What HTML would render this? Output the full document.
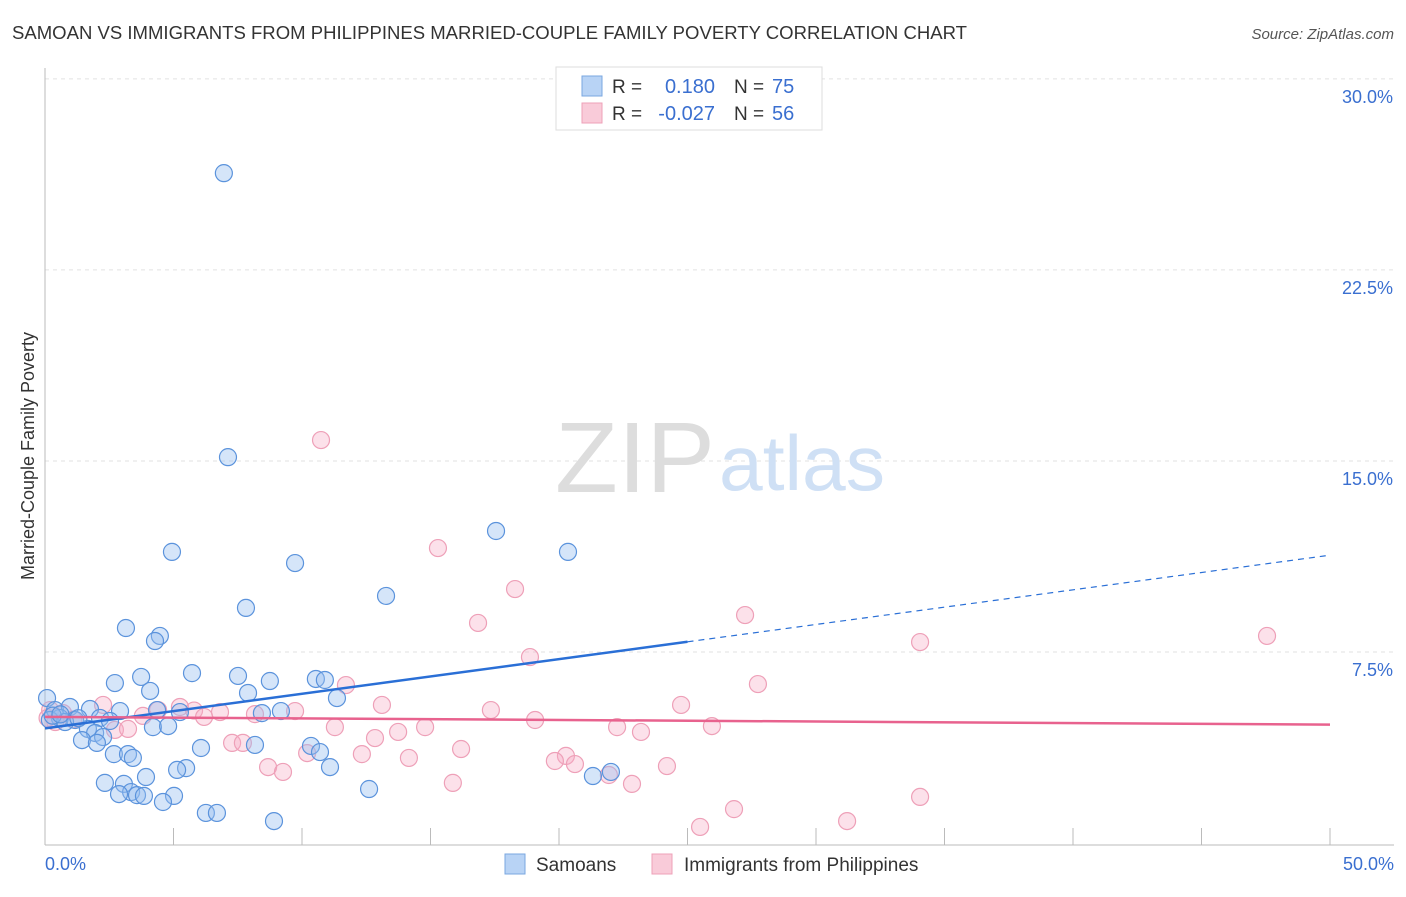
<!DOCTYPE html>
<html><head><meta charset="utf-8">
<style>
body{margin:0;background:#fff;font-family:"Liberation Sans",sans-serif;}
svg text{font-family:"Liberation Sans",sans-serif;}
</style></head>
<body>
<svg id="chart" width="1406" height="892" viewBox="0 0 1406 892" xmlns="http://www.w3.org/2000/svg">
<text x="12" y="39" font-size="18" fill="#333" textLength="955" lengthAdjust="spacingAndGlyphs">SAMOAN VS IMMIGRANTS FROM PHILIPPINES MARRIED-COUPLE FAMILY POVERTY CORRELATION CHART</text>
<text x="1394" y="39" font-size="15" fill="#555" font-style="italic" text-anchor="end">Source: ZipAtlas.com</text>
<text x="34" y="456" font-size="18" fill="#333" text-anchor="middle" transform="rotate(-90 34 456)">Married-Couple Family Poverty</text>
<g id="grid"></g>
<g id="axes"></g>
<text x="555" y="492" font-size="100" fill="#ddd" font-family="Liberation Serif" textLength="160" lengthAdjust="spacingAndGlyphs">ZIP</text>
<text x="719" y="490" font-size="78" fill="#cfe0f5" textLength="166" lengthAdjust="spacingAndGlyphs">atlas</text>
<g id="pinkpts"></g>
<g id="bluepts"></g>
<g id="trends"></g>
<g>
<rect x="556" y="67" width="266" height="63" fill="#fff" stroke="#ddd"/>
<rect x="582" y="76" width="20" height="20" fill="#b8d3f5" stroke="#7aa7e0"/>
<rect x="582" y="103" width="20" height="20" fill="#f9cbd9" stroke="#eea0b8"/>
<text x="612" y="93" font-size="19" fill="#333">R =</text>
<text x="715" y="93" font-size="20" fill="#3a6fd0" text-anchor="end">0.180</text>
<text x="734" y="93" font-size="19" fill="#333">N =</text>
<text x="772" y="93" font-size="20" fill="#3a6fd0">75</text>
<text x="612" y="120" font-size="19" fill="#333">R =</text>
<text x="715" y="120" font-size="20" fill="#3a6fd0" text-anchor="end">-0.027</text>
<text x="734" y="120" font-size="19" fill="#333">N =</text>
<text x="772" y="120" font-size="20" fill="#3a6fd0">56</text>
</g>
<g>
<rect x="505" y="854" width="20" height="20" fill="#b8d3f5" stroke="#7aa7e0"/>
<text x="536" y="871" font-size="19" fill="#333">Samoans</text>
<rect x="652" y="854" width="20" height="20" fill="#f9cbd9" stroke="#eea0b8"/>
<text x="684" y="871" font-size="19" fill="#333">Immigrants from Philippines</text>
</g>
</svg>
<script>
const yTicks=[7.5,15,22.5,30];
const yTickLabels=["7.5%","15.0%","22.5%","30.0%"];
const xTicks=[0,5,10,15,20,25,30,35,40,45,50];
const blueX=[6.96,7.12,4.94,9.73,17.55,20.35,13.27,7.82,3.15,4.47,4.28,5.72,7.51,3.74,2.72,8.75,10.54,10.89,4.09,7.9,11.36,0.08,0.39,0.97,1.75,2.92,4.36,5.25,8.44,9.18,2.14,2.53,0.58,1.17,0.19,0.78,4.2,4.79,1.67,1.95,2.26,1.44,2.02,6.07,8.17,10.35,10.7,2.68,3.23,3.42,5.49,5.14,11.09,3.93,2.33,3.07,3.35,3.58,2.88,3.85,5.02,12.61,21.32,22.02,4.59,6.26,6.69,8.91,0.3,1.3,0.6];
const blueY=[26.3,15.15,11.43,10.99,12.25,11.43,9.7,9.23,8.44,8.13,7.93,6.67,6.56,6.52,6.28,6.36,6.44,6.4,5.97,5.89,5.69,5.69,5.22,5.34,5.26,5.18,5.22,5.14,5.1,5.18,4.91,4.79,4.91,4.83,4.83,4.75,4.55,4.59,4.48,4.32,4.16,4.04,3.93,3.73,3.85,3.81,3.57,3.49,3.49,3.34,2.94,2.87,2.98,2.59,2.36,2.32,2.0,1.88,1.92,1.85,1.85,2.12,2.63,2.79,1.61,1.18,1.18,0.86,5.0,4.9,5.05];
const pinkX=[10.74,15.29,18.29,16.85,27.24,34.05,47.55,18.87,27.74,11.71,24.75,13.11,17.35,2.26,5.25,5.8,4.4,9.73,6.81,8.17,3.81,6.19,19.07,11.28,14.79,22.26,25.95,2.72,3.23,13.74,23.19,12.84,7.28,7.7,16.19,10.2,12.33,20.27,14.16,19.84,20.62,8.68,9.26,24.2,21.94,15.87,22.84,34.05,26.81,31.21,25.49,0.2,0.4,0.1,0.7,1.1];
const pinkY=[15.82,11.58,9.97,8.64,8.95,7.89,8.13,7.3,6.24,6.2,5.42,5.42,5.22,5.42,5.34,5.2,5.22,5.18,5.14,5.06,4.99,4.95,4.83,4.55,4.55,4.55,4.59,4.44,4.48,4.36,4.36,4.12,3.93,3.93,3.69,3.53,3.49,3.42,3.34,3.22,3.1,2.98,2.79,3.02,2.67,2.36,2.32,1.81,1.33,0.86,0.63,5.22,4.75,4.91,5.1,4.85];
const blueTrend=[[0,4.5],[25,7.9],[50,11.3]];
const pinkTrend=[[0,4.95],[50,4.65]];
const NS="http://www.w3.org/2000/svg";
const X=v=>45+v*25.7, Y=v=>843-v*25.47;
function mk(tag,attrs,parent){const e=document.createElementNS(NS,tag);for(const k in attrs)e.setAttribute(k,attrs[k]);parent.appendChild(e);return e;}
const grid=document.getElementById('grid'),axes=document.getElementById('axes');
yTicks.forEach((t,i)=>{
 const l=mk('line',{x1:45,x2:1394,y1:Y(t),y2:Y(t),stroke:'#e2e2e2','stroke-dasharray':'4,4'},grid);
 
 
 const tx=mk('text',{x:1393,y:Y(t)+24,'font-size':18,fill:'#3a6fd0','text-anchor':'end'},axes);
 tx.textContent=yTickLabels[i];
 
 
});
const ax=mk('line',{x1:45,x2:45,y1:68,y2:845,stroke:'#bbb'},axes);


const bx=mk('line',{x1:45,x2:1394,y1:845,y2:845,stroke:'#bbb'},axes);


xTicks.forEach(t=>{const l=mk('line',{x1:X(t),x2:X(t),y1:828,y2:845,stroke:'#bbb'},axes);
 
 });
[[0,"0.0%","start",45],[50,"50.0%","end",1394]].forEach(a=>{const t=mk('text',{x:a[3],y:870,'font-size':18,fill:'#3a6fd0','text-anchor':a[2]},axes);t.textContent=a[1];
 
 });
const pp=document.getElementById('pinkpts'),bp=document.getElementById('bluepts');
pinkX.forEach((v,i)=>{const c=mk('circle',{cx:X(v),cy:Y(pinkY[i]),r:8.5,fill:'rgba(246,170,195,0.35)',stroke:'#eea0b8','stroke-width':1.2},pp);
 
 });
blueX.forEach((v,i)=>{const c=mk('circle',{cx:X(v),cy:Y(blueY[i]),r:8.5,fill:'rgba(150,190,240,0.4)',stroke:'#5b93dc','stroke-width':1.2},bp);
 
 });
const tr=document.getElementById('trends');
const b1=mk('line',{x1:X(blueTrend[0][0]),y1:Y(blueTrend[0][1]),x2:X(blueTrend[1][0]),y2:Y(blueTrend[1][1]),stroke:'#2a6fd6','stroke-width':2.5},tr);


const b2=mk('line',{x1:X(blueTrend[1][0]),y1:Y(blueTrend[1][1]),x2:X(blueTrend[2][0]),y2:Y(blueTrend[2][1]),stroke:'#2a6fd6','stroke-width':1.2,'stroke-dasharray':'6,5'},tr);


const p1=mk('line',{x1:X(pinkTrend[0][0]),y1:Y(pinkTrend[0][1]),x2:X(pinkTrend[1][0]),y2:Y(pinkTrend[1][1]),stroke:'#e8628e','stroke-width':2.5},tr);


</script>
</body></html>
